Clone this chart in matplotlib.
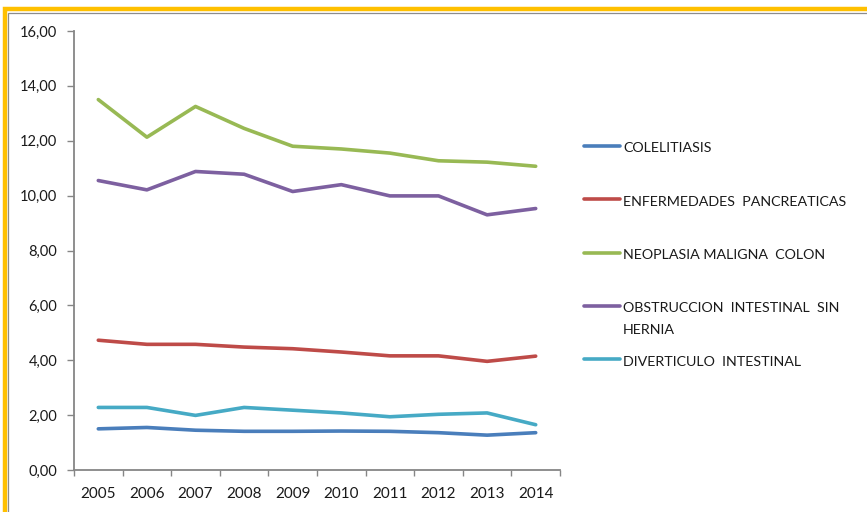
import matplotlib
matplotlib.use("Agg")
import matplotlib.pyplot as plt
from matplotlib.lines import Line2D
from matplotlib.patches import Rectangle
from matplotlib.ticker import FuncFormatter, FixedLocator

years = ["2005", "2006", "2007", "2008", "2009", "2010", "2011", "2012", "2013", "2014"]
colelitiasis = [1.50, 1.55, 1.45, 1.41, 1.41, 1.42, 1.41, 1.36, 1.27, 1.36]
pancreaticas = [4.73, 4.58, 4.58, 4.48, 4.42, 4.30, 4.16, 4.16, 3.96, 4.15]
neoplasia = [13.50, 12.13, 13.25, 12.45, 11.80, 11.70, 11.55, 11.27, 11.22, 11.07]
obstruccion = [10.55, 10.21, 10.88, 10.78, 10.15, 10.40, 9.99, 9.99, 9.30, 9.53]
diverticulo = [2.28, 2.28, 1.99, 2.28, 2.18, 2.08, 1.94, 2.03, 2.08, 1.65]

names = ["COLELITIASIS", "ENFERMEDADES  PANCREATICAS", "NEOPLASIA MALIGNA  COLON",
         "OBSTRUCCION  INTESTINAL  SIN\nHERNIA", "DIVERTICULO  INTESTINAL"]
series = [colelitiasis, pancreaticas, neoplasia, obstruccion, diverticulo]
colors = ["#4A7EBB", "#BE4B48", "#98B954", "#7D60A0", "#46AAC5"]

W, H = 867, 512
plt.rcParams['font.family'] = ['Lato', 'DejaVu Sans']
fig = plt.figure(figsize=(W / 100, H / 100), dpi=100)
fig.patch.set_facecolor("white")

ax = fig.add_axes([74 / W, 1 - 470 / H, (560 - 74) / W, (470 - 31) / H])
x = list(range(len(years)))
for vals, c in zip(series, colors):
    ax.plot(x, vals, color=c, lw=2.6, solid_capstyle="round", solid_joinstyle="round")

ax.set_ylim(0, 16)
ax.set_xlim(-0.5, len(years) - 0.5)
ax.set_yticks([0, 2, 4, 6, 8, 10, 12, 14, 16])
ax.yaxis.set_major_formatter(FuncFormatter(lambda v, p: f"{v:.2f}".replace(".", ",")))
ax.set_xticks(x)
ax.set_xticklabels(years)
ax.xaxis.set_minor_locator(FixedLocator([i - 0.5 for i in range(len(years) + 1)]))
ax.tick_params(axis="x", which="major", length=0, pad=12, labelsize=11, colors="#1a1a1a")
ax.tick_params(axis="x", which="minor", length=4, width=1.0, color="#868686", direction="out")
ax.tick_params(axis="y", which="major", length=5, width=1.0, color="#868686", pad=7,
               labelsize=10.5, labelcolor="#1a1a1a")
for s in ["top", "right"]:
    ax.spines[s].set_visible(False)
for s in ["left", "bottom"]:
    ax.spines[s].set_color("#868686")
    ax.spines[s].set_linewidth(1.3)

# legend (manual, Excel-like)
line_y = [145.5, 199.3, 252.5, 305.7, 358.7]
for name, c, ly in zip(names, colors, line_y):
    fig.add_artist(Line2D([584 / W, 620 / W], [1 - ly / H, 1 - ly / H], color=c, lw=2.6,
                          solid_capstyle="round"))
    for i, part in enumerate(name.split("\n")):
        fig.text(623 / W, 1 - (ly + 6.8 + 21 * i) / H, part, fontsize=10.3, va="baseline",
                 ha="left", color="#1a1a1a")

# chart frame
fig.add_artist(Rectangle((5 / W, -0.2), 1.2, 1 - 9 / H + 0.2, fill=False,
                         edgecolor="#FFC000", lw=3.2, transform=fig.transFigure))
fig.add_artist(Rectangle((8 / W, -0.2), 1.2, 1 - 12.5 / H + 0.2, fill=False,
                         edgecolor="#8C8C8C", lw=0.9, transform=fig.transFigure))

fig.savefig("out.png", dpi=100)
